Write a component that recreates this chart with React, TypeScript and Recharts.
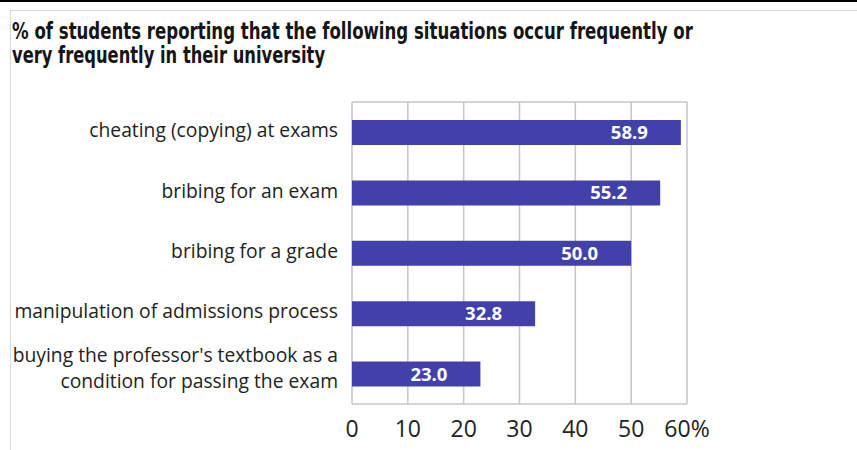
import React, { useLayoutEffect, useRef, useState } from 'react';
import { BarChart, Bar, XAxis, YAxis, CartesianGrid, LabelList } from 'recharts';

const titleLines = [
  '% of students reporting that the following situations occur frequently or',
  'very frequently in their university'
];
// target widths of the two title lines
const titleWidths = [681, 313];

const categories = [
  'cheating (copying) at exams',
  'bribing for an exam',
  'bribing for a grade',
  'manipulation of admissions process',
  "buying the professor's textbook as a\ncondition for passing the exam"
];

const values = [58.9, 55.2, 50.0, 32.8, 23.0];

const xTicks = [0, 10, 20, 30, 40, 50, 60];

const data = categories.map((category, i) => ({ category, value: values[i] }));

const labelFont = "'Open Sans', 'Noto Sans', sans-serif";
const titleFont = "'Liberation Sans Narrow', 'DejaVu Sans Condensed', Roboto, sans-serif";
const barColor = '#4141a9';
const gridColor = '#c6c6c6';

// squeeze the title horizontally to mimic the condensed face of the original
const TitleLine = ({ text, x, y, width }: { text: string; x: number; y: number; width: number }) => {
  const ref = useRef<SVGTextElement>(null);
  const [sx, setSx] = useState(0.75);
  useLayoutEffect(() => {
    if (ref.current) {
      const w = ref.current.getComputedTextLength();
      if (w > 0) setSx(width / w);
    }
  }, [text, width]);
  return (
    <text
      ref={ref}
      transform={`translate(${x},${y}) scale(${sx},1)`}
      x={0}
      y={0}
      fontSize={23}
      fontWeight={700}
      fill="#151515"
      fontFamily={titleFont}
    >
      {text}
    </text>
  );
};

const CategoryTick = (props: any) => {
  const { x, y, payload } = props;
  const lines = String(payload.value).split('\n');
  const lineGap = 26;
  const first = lines.length === 1 ? 5 : -11.5;
  return (
    <g>
      {lines.map((line, i) => (
        <text
          key={i}
          x={x}
          y={y + first + i * lineGap}
          textAnchor="end"
          fill="#222"
          fontSize={19.3}
          fontFamily={labelFont}
        >
          {line}
        </text>
      ))}
    </g>
  );
};

const ValueTick = (props: any) => {
  const { x, y, payload } = props;
  const v = payload.value;
  return (
    <text x={x} y={y} textAnchor="middle" fill="#222" fontSize={23} fontFamily={labelFont}>
      {v === 60 ? '60%' : String(v)}
    </text>
  );
};

const BarValue = (props: any) => {
  const { x, y, width, height, value } = props;
  return (
    <text
      x={x + width - 33}
      y={y + height / 2 + 6.5}
      textAnchor="end"
      fill="#ffffff"
      fontSize={18.5}
      fontWeight={700}
      fontFamily={labelFont}
    >
      {Number(value).toFixed(1)}
    </text>
  );
};

const App = () => {
  return (
    <div style={{ position: 'absolute', left: 0, top: 0, width: 857, height: 450, background: '#fff' }}>
      <svg width={857} height={450} style={{ position: 'absolute', left: 0, top: 0 }}>
        <rect x={0} y={0} width={857} height={2} fill="#000" />
        <line x1={10} y1={10.5} x2={857} y2={10.5} stroke="#d8d8d8" strokeWidth={1} />
        <line x1={10.5} y1={10} x2={10.5} y2={450} stroke="#d8d8d8" strokeWidth={1} />
        <TitleLine text={titleLines[0]} x={12} y={39} width={titleWidths[0]} />
        <TitleLine text={titleLines[1]} x={12} y={63} width={titleWidths[1]} />
      </svg>
      <div style={{ position: 'absolute', left: 0, top: 0 }}>
        <BarChart
          width={857}
          height={450}
          data={data}
          layout="vertical"
          margin={{ top: 102, right: 170, bottom: 0, left: 0 }}
          barCategoryGap={0}
        >
          <CartesianGrid
            stroke={gridColor}
            strokeWidth={1.5}
            horizontalPoints={[102, 404]}
            vertical
            horizontal
          />
          <XAxis
            type="number"
            domain={[0, 60]}
            ticks={xTicks}
            axisLine={false}
            tickLine={false}
            tickSize={0}
            tickMargin={33}
            height={46}
            tick={<ValueTick />}
            interval={0}
          />
          <YAxis
            type="category"
            dataKey="category"
            width={352}
            axisLine={false}
            tickLine={false}
            tickSize={0}
            tickMargin={14}
            tick={<CategoryTick />}
            interval={0}
          />
          <Bar dataKey="value" fill={barColor} barSize={25} isAnimationActive={false}>
            <LabelList dataKey="value" content={<BarValue />} />
          </Bar>
        </BarChart>
      </div>
    </div>
  );
};

export default App;
